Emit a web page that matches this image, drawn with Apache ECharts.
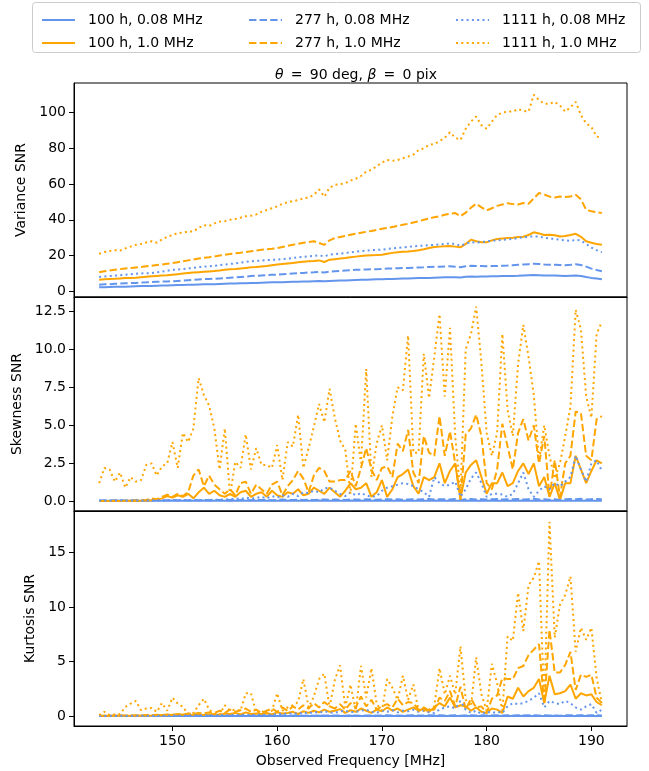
<!DOCTYPE html>
<html>
<head>
<meta charset="utf-8">
<script src="https://cdn.jsdelivr.net/npm/echarts@6.0.0/dist/echarts.min.js"></script>
<style>
html, body { margin: 0; padding: 0; background: #fff; }
#chart { width: 649px; height: 771px; }
</style>
</head>
<body>
<div id="chart"></div>
<script>
// observed frequency grid [MHz]
const freqs = [
  143, 143.5, 144, 144.5, 145, 145.5, 146, 146.5, 147, 147.5,
  148, 148.5, 149, 149.5, 150, 150.5, 151, 151.5, 152, 152.5,
  153, 153.5, 154, 154.5, 155, 155.5, 156, 156.5, 157, 157.5,
  158, 158.5, 159, 159.5, 160, 160.5, 161, 161.5, 162, 162.5,
  163, 163.5, 164, 164.5, 165, 165.5, 166, 166.5, 167, 167.5,
  168, 168.5, 169, 169.5, 170, 170.5, 171, 171.5, 172, 172.5,
  173, 173.5, 174, 174.5, 175, 175.5, 176, 176.5, 177, 177.5,
  178, 178.5, 179, 179.5, 180, 180.5, 181, 181.5, 182, 182.5,
  183, 183.5, 184, 184.5, 185, 185.5, 186, 186.5, 187, 187.5,
  188, 188.5, 189, 189.5, 190, 190.5, 191
];

const names = ['100 h, 0.08 MHz', '100 h, 1.0 MHz', '277 h, 0.08 MHz', '277 h, 1.0 MHz', '1111 h, 0.08 MHz', '1111 h, 1.0 MHz'];

const xTicks = [150, 160, 170, 180, 190];
const varTicks = [0, 20, 40, 60, 80, 100];
const skewTicks = [0, 2.5, 5, 7.5, 10, 12.5];
const kurtTicks = [0, 5, 10, 15];

// ---- Variance SNR ----
const varN100 = [
  2.2, 2.3, 2.4, 2.5, 2.5, 2.6, 2.7, 2.8, 2.9, 3.0,
  3.0, 3.1, 3.2, 3.3, 3.4, 3.5, 3.5, 3.6, 3.7, 3.8,
  3.9, 4.0, 4.0, 4.1, 4.2, 4.3, 4.4, 4.5, 4.5, 4.6,
  4.7, 4.8, 4.9, 5.0, 5.0, 5.1, 5.2, 5.3, 5.4, 5.5,
  5.5, 5.6, 5.7, 5.6, 5.8, 5.9, 6.0, 6.1, 6.2, 6.3,
  6.4, 6.5, 6.6, 6.7, 6.8, 6.9, 6.9, 7.0, 7.1, 7.2,
  7.3, 7.4, 7.5, 7.5, 7.6, 7.7, 7.8, 7.9, 7.9, 7.7,
  8.1, 8.3, 8.2, 8.3, 8.3, 8.4, 8.4, 8.5, 8.5, 8.6,
  8.7, 8.9, 9.0, 9.1, 9.0, 8.9, 8.8, 8.8, 8.7, 8.6,
  8.7, 8.8, 8.6, 8.0, 7.5, 7.1, 6.7
];
const varN277 = [
  3.7, 3.9, 4.0, 4.2, 4.3, 4.5, 4.6, 4.7, 4.9, 5.0,
  5.2, 5.3, 5.4, 5.5, 5.6, 5.8, 6.0, 6.2, 6.4, 6.6,
  6.8, 6.9, 7.0, 7.2, 7.4, 7.6, 7.8, 8.0, 8.2, 8.5,
  8.7, 8.9, 9.1, 9.2, 9.3, 9.5, 9.7, 9.9, 10.1, 10.3,
  10.5, 10.6, 10.8, 10.5, 11.0, 11.2, 11.4, 11.6, 11.8, 12.0,
  12.1, 12.2, 12.3, 12.4, 12.5, 12.7, 12.8, 12.9, 13.0, 13.1,
  13.2, 13.3, 13.4, 13.6, 13.7, 13.8, 13.9, 14.0, 13.8, 13.5,
  14.0, 14.3, 14.2, 14.2, 14.0, 14.1, 14.2, 14.3, 14.4, 14.6,
  14.8, 15.0, 15.2, 15.4, 15.3, 15.0, 14.8, 14.8, 14.7, 14.6,
  14.8, 15.1, 14.7, 13.8, 12.7, 11.9, 11.2
];
const varN1111 = [
  8.0, 8.3, 8.5, 8.8, 9.0, 9.3, 9.5, 9.8, 10.0, 10.1,
  10.2, 10.6, 11.0, 11.5, 12.0, 12.2, 12.5, 12.8, 13.1, 13.5,
  13.8, 14.0, 14.3, 14.6, 15.0, 15.3, 15.6, 16.0, 16.4, 16.8,
  17.0, 17.2, 17.5, 17.6, 17.7, 18.0, 18.3, 18.6, 19.0, 19.3,
  19.6, 19.8, 20.1, 19.6, 20.5, 20.8, 21.1, 21.4, 21.8, 22.2,
  22.5, 22.7, 23.0, 23.2, 23.3, 23.7, 24.0, 24.3, 24.6, 24.9,
  25.2, 25.4, 25.6, 25.8, 26.0, 26.2, 26.5, 26.8, 26.5, 25.5,
  26.6, 27.6, 27.2, 27.5, 28.0, 28.3, 28.5, 28.8, 29.1, 29.3,
  29.8, 30.2, 30.5, 30.8, 30.6, 30.0, 29.5, 29.3, 28.8, 28.5,
  28.2, 28.8, 28.4, 26.5, 24.5, 23.0, 21.8
];
const varW100 = [
  6.5, 6.7, 6.9, 7.0, 7.2, 7.4, 7.4, 7.6, 7.9, 8.2,
  8.4, 8.6, 8.8, 9.0, 9.3, 9.6, 9.9, 10.2, 10.5, 10.7,
  10.9, 11.1, 11.3, 11.6, 12.0, 12.3, 12.5, 12.8, 13.1, 13.4,
  13.6, 13.9, 14.2, 14.6, 15.0, 15.3, 15.6, 15.9, 16.2, 16.5,
  16.8, 17.0, 17.3, 16.4, 17.7, 18.0, 18.3, 18.6, 19.0, 19.4,
  19.7, 20.0, 20.2, 20.3, 20.5, 21.0, 21.5, 21.8, 22.1, 22.3,
  22.6, 23.0, 23.5, 24.2, 24.8, 25.0, 25.2, 25.4, 25.0, 24.6,
  26.5, 28.9, 28.0, 27.4, 27.4, 28.5, 29.3, 29.6, 29.8, 30.0,
  30.4, 30.5, 31.5, 33.0, 32.4, 31.5, 31.7, 31.4, 30.7, 30.9,
  31.5, 32.2, 30.5, 28.0, 27.2, 26.5, 26.0
];
const varW277 = [
  10.6, 11.2, 11.6, 12.0, 12.4, 12.8, 13.0, 13.3, 13.6, 14.0,
  14.3, 14.7, 15.0, 15.4, 15.8, 16.3, 16.8, 17.3, 17.8, 18.3,
  18.8, 19.1, 19.5, 20.0, 20.5, 20.9, 21.3, 21.6, 22.0, 22.4,
  22.8, 23.2, 23.5, 23.8, 24.2, 24.8, 25.4, 26.0, 26.6, 27.2,
  27.6, 28.0, 27.0, 26.0, 28.5, 29.8, 30.4, 31.0, 31.6, 32.2,
  32.8, 33.3, 33.8, 34.4, 35.0, 35.4, 36.0, 36.6, 37.2, 37.8,
  38.5, 39.2, 40.0, 40.8, 41.5, 42.0, 42.8, 43.4, 43.8, 42.0,
  44.0, 46.8, 49.0, 47.0, 45.3, 46.5, 47.8, 48.6, 49.3, 48.8,
  48.6, 49.4, 49.0, 52.0, 55.0, 54.2, 53.0, 52.5, 53.0, 52.8,
  53.0, 54.0, 51.5, 45.6, 44.8, 44.2, 43.8
];
const varW1111 = [
  21.0, 22.0, 22.5, 23.0, 22.8, 24.0, 25.0, 26.0, 26.5, 27.3,
  28.0, 27.2, 29.0, 30.5, 31.5, 32.6, 32.8, 33.5, 33.5, 35.5,
  37.0, 36.5, 38.0, 39.0, 39.2, 40.0, 40.5, 41.2, 42.0, 42.3,
  43.0, 44.5, 45.5, 46.5, 47.5, 49.0, 49.8, 50.5, 51.0, 52.0,
  52.5, 54.0, 57.0, 53.0, 58.0, 59.6, 60.0, 60.5, 62.0, 63.0,
  64.5, 67.0, 68.0, 70.0, 72.0, 73.5, 73.0, 73.5, 74.5, 75.4,
  76.5, 79.0, 80.0, 82.0, 82.5, 84.0, 86.0, 89.0, 86.0, 84.7,
  91.0, 95.0, 97.8, 93.0, 91.0, 95.0, 98.7, 100.0, 100.6, 100.6,
  102.0, 101.0, 100.6, 110.0, 107.0, 105.0, 105.0, 106.0, 104.0, 100.6,
  103.0, 106.0, 98.7, 94.0, 92.0, 86.6, 86.0
];

// ---- Skewness SNR ----
const skewN100 = [
  0.05, 0.04, 0.05, 0.05, 0.06, 0.05, 0.04, 0.05, 0.05, 0.06,
  0.05, 0.05, 0.04, 0.05, 0.06, 0.05, 0.05, 0.04, 0.05, 0.05,
  0.06, 0.05, 0.05, 0.04, 0.05, 0.06, 0.05, 0.05, 0.05, 0.04,
  0.05, 0.06, 0.05, 0.05, 0.04, 0.05, 0.05, 0.06, 0.05, 0.05,
  0.04, 0.05, 0.06, 0.05, 0.05, 0.05, 0.04, 0.05, 0.06, 0.05,
  0.05, 0.04, 0.05, 0.06, 0.05, 0.05, 0.04, 0.05, 0.05, 0.06,
  0.05, 0.05, 0.04, 0.05, 0.06, 0.05, 0.05, 0.04, 0.05, 0.05,
  0.06, 0.05, 0.05, 0.04, 0.05, 0.06, 0.05, 0.05, 0.05, 0.04,
  0.05, 0.06, 0.05, 0.05, 0.04, 0.05, 0.05, 0.06, 0.05, 0.05,
  0.04, 0.05, 0.06, 0.05, 0.05, 0.05, 0.04
];
const skewN277 = [
  0.06, 0.07, 0.06, 0.08, 0.07, 0.06, 0.07, 0.08, 0.06, 0.07,
  0.08, 0.07, 0.06, 0.08, 0.09, 0.07, 0.08, 0.07, 0.09, 0.08,
  0.07, 0.09, 0.08, 0.10, 0.08, 0.09, 0.07, 0.10, 0.09, 0.08,
  0.10, 0.09, 0.11, 0.08, 0.10, 0.12, 0.09, 0.10, 0.11, 0.09,
  0.12, 0.10, 0.11, 0.13, 0.10, 0.12, 0.11, 0.10, 0.13, 0.12,
  0.10, 0.14, 0.12, 0.11, 0.13, 0.15, 0.12, 0.14, 0.11, 0.13,
  0.15, 0.12, 0.14, 0.16, 0.13, 0.15, 0.14, 0.12, 0.16, 0.10,
  0.14, 0.16, 0.13, 0.15, 0.12, 0.14, 0.16, 0.13, 0.15, 0.14,
  0.16, 0.13, 0.15, 0.17, 0.12, 0.15, 0.11, 0.14, 0.10, 0.15,
  0.16, 0.14, 0.17, 0.13, 0.15, 0.16, 0.14
];
const skewN1111 = [
  0.05, 0.05, 0.04, 0.05, 0.06, 0.05, 0.05, 0.06, 0.05, 0.06,
  0.06, 0.07, 0.06, 0.08, 0.07, 0.08, 0.09, 0.08, 0.10, 0.09,
  0.10, 0.08, 0.12, 0.10, 0.15, 0.12, 0.20, 0.15, 0.25, 0.18,
  0.22, 0.30, 0.20, 0.35, 0.25, 0.40, 0.30, 0.50, 0.35, 0.60,
  0.55, 0.70, 0.60, 0.85, 0.90, 0.70, 0.50, 0.35, 0.60, 0.40,
  0.55, 0.40, 0.30, 0.35, 0.70, 0.90, 1.00, 1.10, 1.20, 1.15,
  1.00, 0.80, 0.60, 0.30, 1.60, 1.20, 1.00, 1.10, 1.30, 0.30,
  0.80, 1.50, 1.90, 1.20, 0.30, 0.50, 0.50, 0.45, 0.30, 0.50,
  1.20, 1.90, 0.80, 0.30, 0.70, 1.00, 0.80, 1.20, 1.00, 1.30,
  1.60, 3.00, 2.10, 1.30, 2.50, 2.70, 2.00
];
const skewW100 = [
  0.02, 0.03, 0.02, 0.03, 0.02, 0.03, 0.04, 0.03, 0.05, 0.04,
  0.08, 0.10, 0.20, 0.35, 0.25, 0.40, 0.30, 0.50, 0.20, 0.60,
  0.90, 0.50, 0.70, 0.40, 0.30, 0.50, 0.30, 0.60, 0.70, 0.30,
  0.50, 0.60, 0.30, 0.70, 0.40, 0.30, 0.60, 0.50, 0.80, 0.40,
  0.50, 0.90, 0.70, 0.50, 0.90, 0.60, 0.30, 0.70, 1.20, 0.80,
  0.90, 1.20, 0.30, 0.60, 1.40, 0.30, 0.80, 1.60, 1.80, 2.10,
  1.00, 0.50, 1.60, 1.40, 1.60, 2.50, 1.20, 2.00, 2.50, 0.20,
  1.90, 2.40, 2.70, 1.60, 0.50, 1.20, 1.20, 1.90, 1.00, 1.20,
  2.00, 2.50, 1.80, 2.50, 1.00, 1.60, 0.30, 1.20, 0.10, 1.20,
  1.20, 3.00, 2.10, 1.20, 2.00, 2.70, 2.50
];
const skewW277 = [
  0.02, 0.03, 0.03, 0.04, 0.03, 0.05, 0.04, 0.06, 0.08, 0.10,
  0.20, 0.15, 0.30, 0.45, 0.30, 0.50, 0.35, 0.60, 1.70, 2.10,
  1.00, 1.70, 1.10, 0.80, 0.50, 0.80, 0.40, 1.20, 1.30, 0.50,
  1.10, 0.80, 0.50, 1.10, 1.30, 0.40, 1.00, 1.40, 2.00, 1.50,
  0.60, 1.70, 2.20, 2.00, 1.30, 1.30, 1.40, 1.40, 2.00, 1.00,
  2.20, 3.50, 2.10, 1.40, 2.20, 2.30, 1.60, 3.80, 3.30, 4.70,
  1.90, 1.20, 4.30, 3.20, 3.00, 5.60, 3.00, 4.60, 2.50, 0.10,
  4.40, 4.80, 5.70, 4.30, 1.20, 0.80, 2.10, 5.10, 3.60, 2.10,
  4.50, 5.40, 4.00, 5.00, 2.50, 4.30, 0.30, 2.70, 0.30, 2.50,
  3.00, 5.90, 5.80, 3.00, 2.70, 5.40, 5.60
];
const skewW1111 = [
  1.2, 2.2, 2.1, 1.3, 1.9, 0.9, 1.6, 1.3, 1.4, 2.4,
  2.5, 1.7, 2.3, 2.5, 3.9, 2.2, 4.5, 3.9, 4.8, 8.1,
  7.0, 6.3, 4.8, 2.1, 4.8, 0.4, 2.6, 2.2, 4.4, 2.1,
  3.5, 2.4, 2.4, 2.2, 3.7, 1.4, 3.9, 3.6, 5.7, 2.2,
  3.5, 4.9, 6.4, 5.2, 7.4, 5.5, 4.0, 3.4, 0.5, 5.1,
  2.5, 8.7, 1.6, 3.8, 5.0, 2.7, 5.6, 7.5, 7.3, 10.9,
  3.2, 3.2, 9.7, 6.8, 9.5, 12.3, 6.9, 11.4, 4.3, 0.5,
  10.0, 11.0, 12.8, 9.1, 4.5, 3.0, 4.5, 11.0, 6.0, 4.3,
  9.0, 11.6, 9.5, 7.0, 2.7, 5.0, 3.0, 1.5, 2.5, 4.3,
  6.2, 12.6, 11.3, 6.9, 5.5, 11.0, 11.8
];

// ---- Kurtosis SNR ----
const kurtN100 = [
  0.02, 0.01, 0.02, 0.02, 0.03, 0.02, 0.01, 0.02, 0.02, 0.03,
  0.02, 0.02, 0.01, 0.02, 0.03, 0.02, 0.02, 0.01, 0.02, 0.02,
  0.03, 0.02, 0.02, 0.01, 0.02, 0.03, 0.02, 0.02, 0.02, 0.01,
  0.02, 0.03, 0.02, 0.02, 0.01, 0.02, 0.02, 0.03, 0.02, 0.02,
  0.01, 0.02, 0.03, 0.02, 0.02, 0.02, 0.01, 0.02, 0.03, 0.02,
  0.02, 0.01, 0.02, 0.03, 0.02, 0.02, 0.01, 0.02, 0.02, 0.03,
  0.02, 0.02, 0.01, 0.02, 0.03, 0.02, 0.02, 0.01, 0.02, 0.02,
  0.03, 0.02, 0.02, 0.01, 0.02, 0.03, 0.02, 0.02, 0.02, 0.01,
  0.02, 0.03, 0.02, 0.02, 0.01, 0.02, 0.02, 0.03, 0.02, 0.02,
  0.01, 0.02, 0.03, 0.02, 0.02, 0.02, 0.01
];
const kurtN277 = [
  0.03, 0.02, 0.03, 0.04, 0.03, 0.02, 0.03, 0.04, 0.03, 0.03,
  0.04, 0.03, 0.03, 0.04, 0.05, 0.03, 0.04, 0.03, 0.05, 0.04,
  0.03, 0.05, 0.04, 0.05, 0.04, 0.05, 0.03, 0.05, 0.04, 0.04,
  0.05, 0.04, 0.06, 0.04, 0.05, 0.06, 0.04, 0.05, 0.06, 0.05,
  0.06, 0.05, 0.06, 0.07, 0.05, 0.06, 0.05, 0.05, 0.07, 0.06,
  0.05, 0.07, 0.06, 0.05, 0.07, 0.08, 0.06, 0.07, 0.05, 0.07,
  0.08, 0.06, 0.07, 0.08, 0.06, 0.08, 0.07, 0.06, 0.08, 0.05,
  0.07, 0.08, 0.06, 0.08, 0.06, 0.07, 0.08, 0.06, 0.08, 0.07,
  0.08, 0.07, 0.08, 0.09, 0.06, 0.08, 0.06, 0.07, 0.05, 0.08,
  0.08, 0.07, 0.09, 0.06, 0.08, 0.08, 0.07
];
const kurtN1111 = [
  0.02, 0.02, 0.03, 0.02, 0.03, 0.03, 0.02, 0.04, 0.03, 0.03,
  0.04, 0.03, 0.05, 0.04, 0.06, 0.05, 0.04, 0.06, 0.05, 0.07,
  0.06, 0.08, 0.05, 0.09, 0.10, 0.08, 0.12, 0.10, 0.14, 0.10,
  0.12, 0.15, 0.10, 0.18, 0.15, 0.25, 0.20, 0.30, 0.20, 0.35,
  0.25, 0.40, 0.30, 0.45, 0.35, 0.30, 0.45, 0.50, 0.35, 0.40,
  0.50, 0.60, 0.40, 0.30, 0.50, 0.40, 0.55, 0.35, 0.50, 0.45,
  0.60, 0.40, 0.50, 0.35, 0.30, 0.60, 0.80, 0.90, 0.70, 1.40,
  0.60, 0.30, 0.50, 0.20, 0.40, 0.30, 0.40, 0.30, 0.90, 1.20,
  1.10, 1.20, 1.40, 1.70, 2.10, 0.80, 1.40, 1.20, 1.10, 1.40,
  1.20, 0.80, 0.60, 0.90, 1.10, 0.30, 0.60
];
const kurtW100 = [
  0.02, 0.03, 0.02, 0.03, 0.04, 0.03, 0.05, 0.04, 0.06, 0.05,
  0.06, 0.08, 0.10, 0.08, 0.12, 0.10, 0.15, 0.10, 0.12, 0.15,
  0.10, 0.15, 0.20, 0.12, 0.25, 0.20, 0.30, 0.15, 0.35, 0.20,
  0.25, 0.20, 0.30, 0.15, 0.35, 0.25, 0.30, 0.40, 0.20, 0.45,
  0.30, 0.50, 0.35, 0.60, 0.40, 0.50, 0.65, 0.30, 0.55, 0.40,
  0.70, 0.50, 0.30, 0.60, 0.45, 0.80, 0.50, 0.70, 0.40, 0.60,
  0.80, 0.50, 0.70, 0.40, 0.80, 1.20, 0.90, 1.70, 0.80, 1.00,
  0.90, 0.50, 0.80, 0.40, 0.30, 0.70, 0.60, 0.30, 1.80, 1.60,
  2.60, 1.80, 2.30, 2.60, 3.40, 1.20, 3.70, 2.00, 2.10, 2.30,
  2.90, 1.60, 2.10, 1.90, 2.00, 1.30, 1.00
];
const kurtW277 = [
  0.02, 0.03, 0.03, 0.05, 0.04, 0.06, 0.05, 0.08, 0.06, 0.10,
  0.08, 0.12, 0.10, 0.15, 0.12, 0.20, 0.15, 0.25, 0.20, 0.30,
  0.25, 0.35, 0.30, 0.50, 0.30, 0.60, 0.40, 0.55, 0.70, 0.40,
  0.60, 0.30, 0.50, 0.70, 0.40, 0.80, 0.50, 0.90, 0.60, 1.00,
  0.70, 1.20, 0.80, 1.30, 0.90, 0.70, 1.10, 0.60, 1.20, 0.80,
  1.80, 0.90, 1.50, 0.60, 0.90, 1.10, 0.80, 1.60, 1.00, 1.30,
  1.20, 0.60, 0.80, 0.50, 0.60, 1.70, 1.40, 2.30, 0.90, 2.70,
  0.60, 1.60, 0.80, 0.90, 0.30, 1.60, 1.90, 3.50, 3.40, 3.40,
  4.40, 4.60, 5.60, 6.10, 6.60, 1.10, 7.90, 4.00, 4.00, 4.70,
  5.90, 2.40, 3.80, 3.60, 3.80, 1.70, 1.20
];
const kurtW1111 = [
  0.10, 0.40, 0.10, 0.15, 0.20, 0.85, 1.15, 1.40, 0.55, 0.70,
  0.75, 0.40, 1.20, 0.50, 1.70, 1.15, 0.85, 0.20, 0.30, 1.00,
  1.60, 0.60, 0.20, 0.15, 1.00, 0.50, 0.60, 0.50, 2.10, 2.10,
  0.30, 0.50, 0.20, 0.50, 2.10, 0.50, 0.80, 1.00, 1.30, 3.40,
  0.80, 1.80, 3.40, 3.90, 0.80, 3.30, 4.65, 0.80, 2.90, 0.50,
  4.60, 1.70, 4.40, 1.10, 0.50, 3.40, 2.60, 1.50, 3.70, 1.50,
  2.90, 0.50, 0.50, 0.60, 0.90, 4.40, 2.00, 3.70, 2.00, 6.40,
  1.50, 0.90, 5.40, 2.00, 0.50, 4.80, 3.00, 0.50, 7.30, 6.90,
  11.3, 7.80, 12.0, 12.7, 14.2, 1.10, 17.8, 7.20, 10.2, 11.1,
  12.8, 5.90, 8.10, 7.00, 8.10, 3.50, 1.20
];

const BLUE = '#6495ED';
const ORANGE = '#FFA500';
const FONT = 'DejaVu Sans';
const dashTypes = ['solid', [7.4, 3.2], [2, 3.3]];

function pairs(vals) {
  return vals.map((v, i) => [freqs[i], v]);
}

function panelSeries(idx, sets) {
  // sets: [N100, W100, N277, W277, N1111, W1111]
  return sets.map((vals, k) => {
    const color = k % 2 === 0 ? BLUE : ORANGE;
    return {
      name: names[k],
      type: 'line',
      xAxisIndex: idx,
      yAxisIndex: idx,
      data: pairs(vals),
      showSymbol: false,
      symbol: 'none',
      animation: false,
      lineStyle: { color: color, width: 2, type: dashTypes[Math.floor(k / 2)] },
      itemStyle: { color: color }
    };
  });
}

const gridTops = [83, 297, 511];
const gridHeights = [214, 214, 215];

function xAxisFor(idx) {
  const last = idx === 2;
  return {
    type: 'value', gridIndex: idx, min: 140.6, max: 193.4,
    axisLine: { show: true, onZero: false, lineStyle: { color: '#000', width: 1 } },
    axisTick: { show: last, length: 5, lineStyle: { color: '#000' }, customValues: xTicks },
    axisLabel: { show: last, customValues: xTicks, fontSize: 14, color: '#000', fontFamily: FONT, margin: 8 },
    splitLine: { show: false },
    name: last ? 'Observed Frequency [MHz]' : '',
    nameLocation: 'middle', nameGap: 28,
    nameTextStyle: { fontSize: 14, color: '#000', fontFamily: FONT }
  };
}

function yAxisFor(idx, min, max, ticks, name, gap, fmt) {
  return {
    type: 'value', gridIndex: idx, min: min, max: max,
    name: name, nameLocation: 'middle', nameGap: gap, nameRotate: 90,
    nameTextStyle: { fontSize: 14, color: '#000', fontFamily: FONT },
    axisLine: { show: true, onZero: false, lineStyle: { color: '#000', width: 1 } },
    axisTick: { show: true, length: 5, lineStyle: { color: '#000' }, customValues: ticks },
    axisLabel: { customValues: ticks, fontSize: 14, color: '#000', fontFamily: FONT, margin: 8, formatter: fmt },
    splitLine: { show: false }
  };
}

function legendCol(left, items) {
  return {
    data: items, left: left, top: 8, orient: 'vertical',
    itemWidth: 33, itemHeight: 14, itemGap: 9, selectedMode: false,
    itemStyle: { opacity: 0 },
    textStyle: { fontSize: 14, color: '#000', fontFamily: FONT, padding: [0, 0, 0, 8] }
  };
}

const chart = echarts.init(document.getElementById('chart'));
chart.setOption({
  backgroundColor: '#fff',
  animation: false,
  title: {
    text: '{i|θ}\u2009 = \u200990 deg, {i|β}\u2009 = \u20090 pix',
    left: 351, top: 63, textAlign: 'center',
    textStyle: {
      fontSize: 14, fontWeight: 'normal', color: '#000', fontFamily: FONT,
      rich: { i: { fontStyle: 'italic', fontSize: 14, color: '#000', fontFamily: FONT } }
    }
  },
  graphic: [{
    type: 'rect', z: 0,
    shape: { x: 32.5, y: 2.5, width: 608, height: 50, r: 3 },
    style: { fill: '#fff', stroke: '#cccccc', lineWidth: 1 }
  }],
  legend: [
    legendCol(36, [names[0], names[1]]),
    legendCol(243, [names[2], names[3]]),
    legendCol(450, [names[4], names[5]])
  ],
  grid: gridTops.map((t, i) => ({
    left: 74, width: 553, top: t, height: gridHeights[i],
    show: true, borderColor: '#000', borderWidth: 1, backgroundColor: 'transparent'
  })),
  xAxis: [xAxisFor(0), xAxisFor(1), xAxisFor(2)],
  yAxis: [
    yAxisFor(0, -3.2, 116.6, varTicks, 'Variance SNR', 37, v => String(v)),
    yAxisFor(1, -0.63, 13.43, skewTicks, 'Skewness SNR', 42, v => v.toFixed(1)),
    yAxisFor(2, -0.9, 18.8, kurtTicks, 'Kurtosis SNR', 33, v => String(v))
  ],
  series: [].concat(
    panelSeries(0, [varN100, varW100, varN277, varW277, varN1111, varW1111]),
    panelSeries(1, [skewN100, skewW100, skewN277, skewW277, skewN1111, skewW1111]),
    panelSeries(2, [kurtN100, kurtW100, kurtN277, kurtW277, kurtN1111, kurtW1111])
  )
});
</script>
</body>
</html>
